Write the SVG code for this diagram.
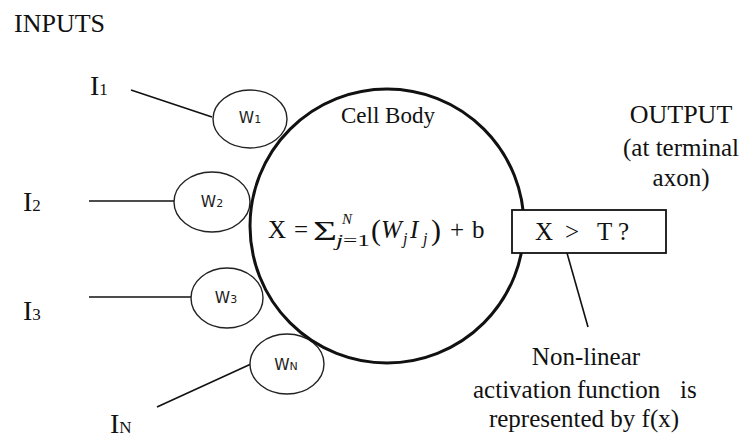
<svg xmlns="http://www.w3.org/2000/svg" width="743" height="439" viewBox="0 0 743 439">
<style>
.serif{font-family:"Liberation Serif","Times New Roman",serif;fill:#111}
.big{font-size:25px}
.it{font-style:italic}
.sans{font-family:"DejaVu Sans",Verdana,sans-serif;fill:#222;font-size:15.5px}
.sub{font-size:11px}
.isub{font-size:17px}
.ln{stroke:#111;stroke-width:1.6;fill:none}
.wt{stroke:#222;stroke-width:1.4;fill:#fff}
</style>
<rect width="743" height="439" fill="#fff"/>
<g id="connectors">
<line class="ln" x1="131" y1="90" x2="212" y2="117"/>
<line class="ln" x1="89" y1="201" x2="175" y2="201"/>
<line class="ln" x1="89" y1="297" x2="192" y2="297"/>
<line class="ln" x1="157" y1="407" x2="251" y2="364"/>
<line class="ln" x1="567" y1="253" x2="588" y2="327"/>
</g>
<g id="title"><text class="serif" x="14" y="32" font-size="26">INPUTS</text></g>
<g id="i1"><text class="serif" x="90" y="95" font-size="28">I<tspan class="isub">1</tspan></text></g>
<g id="i2"><text class="serif" x="23" y="211" font-size="28">I<tspan class="isub">2</tspan></text></g>
<g id="i3"><text class="serif" x="23" y="320" font-size="28">I<tspan class="isub">3</tspan></text></g>
<g id="in"><text class="serif" x="110" y="433" font-size="28">I<tspan class="isub">N</tspan></text></g>
<g id="w1"><ellipse class="wt" cx="250" cy="119" rx="37" ry="29"/><text class="sans" x="250" y="123" text-anchor="middle">W<tspan class="sub">1</tspan></text></g>
<g id="w2"><ellipse class="wt" cx="212" cy="202" rx="38" ry="30"/><text class="sans" x="212" y="207" text-anchor="middle">W<tspan class="sub">2</tspan></text></g>
<g id="w3"><ellipse class="wt" cx="227" cy="298" rx="36" ry="30"/><text class="sans" x="226" y="303" text-anchor="middle">W<tspan class="sub">3</tspan></text></g>
<g id="wn"><ellipse class="wt" cx="287" cy="364" rx="37" ry="30"/><text class="sans" x="286" y="370" text-anchor="middle">W<tspan class="sub">N</tspan></text></g>
<g id="cell">
<circle cx="387" cy="226" r="137" fill="none" stroke="#111" stroke-width="3"/>
<text class="serif" x="388" y="123" font-size="23" text-anchor="middle">Cell Body</text>
<g class="serif">
<text x="268" y="238" font-size="25">X</text>
<text x="294" y="238" font-size="25">=</text>
<text x="313" y="240" font-size="27" textLength="24" lengthAdjust="spacingAndGlyphs">Σ</text>
<text x="342" y="224" font-size="15" class="it">N</text>
<text x="336" y="246" font-size="17" textLength="34" lengthAdjust="spacingAndGlyphs"><tspan class="it">j</tspan>=1</text>
<text x="371" y="240" font-size="30">(</text>
<text x="381" y="238" font-size="25" class="it">W</text>
<text x="403" y="244" font-size="16" class="it">j</text>
<text x="410" y="238" font-size="25" class="it">I</text>
<text x="423" y="244" font-size="16" class="it">j</text>
<text x="431" y="240" font-size="30">)</text>
<text x="450" y="238" font-size="25">+</text>
<text x="472" y="238" font-size="25">b</text>
</g>
</g>
<g id="threshold">
<rect x="512" y="210" width="154" height="43" fill="#fff" stroke="#111" stroke-width="1.8"/>
<text class="serif big" y="240"><tspan x="535">X</tspan><tspan x="565">&gt;</tspan><tspan x="597">T</tspan><tspan x="618">?</tspan></text>
</g>
<g id="output">
<text class="serif" x="681" y="123" font-size="26" text-anchor="middle">OUTPUT</text>
<text class="serif big" x="681" y="156" text-anchor="middle">(at terminal</text>
<text class="serif big" x="681" y="186" text-anchor="middle">axon)</text>
</g>
<g id="activation">
<text class="serif big" x="586" y="365" text-anchor="middle">Non-linear</text>
<text class="serif big" y="398"><tspan x="473">activation</tspan><tspan x="577">function</tspan><tspan x="680">is</tspan></text>
<text class="serif big" x="584" y="427" text-anchor="middle">represented by f(x)</text>
</g>
</svg>
